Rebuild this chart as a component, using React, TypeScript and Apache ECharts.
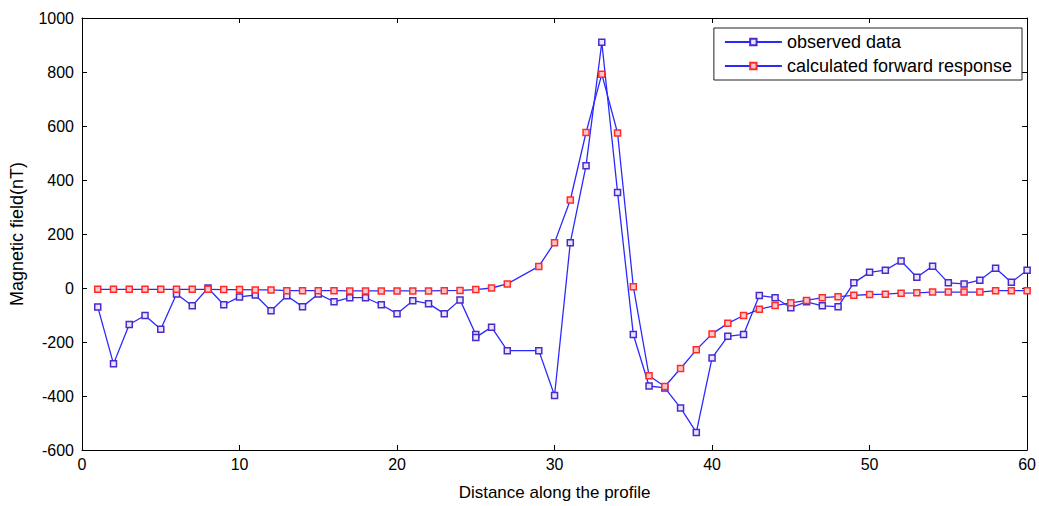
import React, { useEffect, useRef } from "react";
import * as echarts from "echarts";

const xTicks = [0, 10, 20, 30, 40, 50, 60];
const yTicks = [-600, -400, -200, 0, 200, 400, 600, 800, 1000];

const observedX = [1, 2, 3, 4, 5, 6, 7, 8, 9, 10, 11, 12, 13, 14, 15, 16, 17, 18, 19, 20, 21, 22, 23, 24, 25, 25, 26, 27, 29, 30, 31, 32, 33, 34, 35, 36, 37, 38, 39, 40, 41, 42, 43, 44, 45, 46, 47, 48, 49, 50, 51, 52, 53, 54, 55, 56, 57, 58, 59, 60];
const observedY = [-70, -281, -135, -102, -153, -22, -66, 0, -62, -33, -26, -84, -29, -69, -22, -51, -36, -36, -62, -95, -47, -58, -95, -44, -172, -183, -145, -232, -232, -398, 168, 453, 910, 354, -172, -363, -370, -444, -535, -259, -179, -172, -28, -36, -73, -51, -66, -69, 19, 58, 66, 100, 40, 81, 19, 15, 29, 73, 21, 66];

const calcX = [1, 2, 3, 4, 5, 6, 7, 8, 9, 10, 11, 12, 13, 14, 15, 16, 17, 18, 19, 20, 21, 22, 23, 24, 25, 26, 27, 29, 30, 31, 32, 33, 34, 35, 36, 37, 38, 39, 40, 41, 42, 43, 44, 45, 46, 47, 48, 49, 50, 51, 52, 53, 54, 55, 56, 57, 58, 59, 60];
const calcY = [-5, -5, -5, -5, -5, -5, -5, -5, -6, -6, -7, -7, -10, -10, -10, -10, -11, -11, -11, -11, -11, -11, -10, -9, -6, 0, 15, 80, 168, 326, 576, 792, 574, 5, -325, -365, -298, -229, -170, -131, -102, -79, -65, -55, -46, -36, -32, -27, -24, -23, -19, -18, -15, -15, -15, -15, -10, -10, -10];

const FONT = "'Liberation Sans', Arial, sans-serif";

export default function App() {
  const ref = useRef<HTMLDivElement>(null);
  useEffect(() => {
    if (!ref.current) return;
    const chart = echarts.init(ref.current, null, { renderer: "svg" });
    const axisLine = { show: true, onZero: false, lineStyle: { color: "#000", width: 1 } };
    const tickIn = { show: true, inside: true, length: 5, lineStyle: { color: "#000" } };
    chart.setOption({
      animation: false,
      backgroundColor: "#fff",
      textStyle: { fontFamily: FONT },
      grid: { left: 81, right: 7, top: 18, bottom: 48, containLabel: false },
      legend: {
        orient: "vertical",
        right: 17,
        top: 28,
        backgroundColor: "#fff",
        borderColor: "#222",
        borderWidth: 1,
        padding: [5, 10, 5, 10],
        itemGap: 6,
        itemWidth: 57,
        itemHeight: 8,
        textStyle: { fontSize: 18, color: "#000", fontFamily: FONT },
        data: ["observed data", "calculated forward response"],
      },
      xAxis: [
        {
          type: "value",
          min: 0,
          max: 60,
          interval: 10,
          name: "Distance along the profile",
          nameLocation: "middle",
          nameGap: 34,
          nameTextStyle: { fontSize: 17, color: "#000" },
          axisLine,
          axisTick: tickIn,
          axisLabel: { fontSize: 16, color: "#000", margin: 6, formatter: (v: number) => (xTicks.includes(v) ? String(v) : "") },
          splitLine: { show: false },
        },
        {
          type: "value",
          position: "top",
          min: 0,
          max: 60,
          interval: 10,
          axisLine,
          axisTick: tickIn,
          axisLabel: { show: false },
          splitLine: { show: false },
        },
      ],
      yAxis: [
        {
          type: "value",
          min: -600,
          max: 1000,
          interval: 200,
          name: "Magnetic field(nT)",
          nameLocation: "middle",
          nameGap: 56,
          nameTextStyle: { fontSize: 18, color: "#000" },
          axisLine,
          axisTick: tickIn,
          axisLabel: { fontSize: 16, color: "#000", margin: 8, formatter: (v: number) => (yTicks.includes(v) ? String(v) : "") },
          splitLine: { show: false },
        },
        {
          type: "value",
          position: "right",
          min: -600,
          max: 1000,
          interval: 200,
          axisLine,
          axisTick: tickIn,
          axisLabel: { show: false },
          splitLine: { show: false },
        },
      ],
      series: [
        {
          name: "observed data",
          type: "line",
          data: observedX.map((x, i) => [x, observedY[i]]),
          symbol: "rect",
          symbolSize: 6,
          showAllSymbol: true,
          lineStyle: { color: "#2a2aff", width: 1.3 },
          itemStyle: { color: "#e8e6ff", borderColor: "#4a2bc8", borderWidth: 1.5 },
          z: 3,
        },
        {
          name: "calculated forward response",
          type: "line",
          data: calcX.map((x, i) => [x, calcY[i]]),
          symbol: "rect",
          symbolSize: 6,
          showAllSymbol: true,
          lineStyle: { color: "#2a2aff", width: 1.3 },
          itemStyle: { color: "#ffc8c8", borderColor: "#ff2a2a", borderWidth: 1.5 },
          z: 4,
        },
      ],
    });
    return () => chart.dispose();
  }, []);
  return <div ref={ref} style={{ position: "absolute", left: 0, top: 0, width: 1039, height: 506 }} />;
}
